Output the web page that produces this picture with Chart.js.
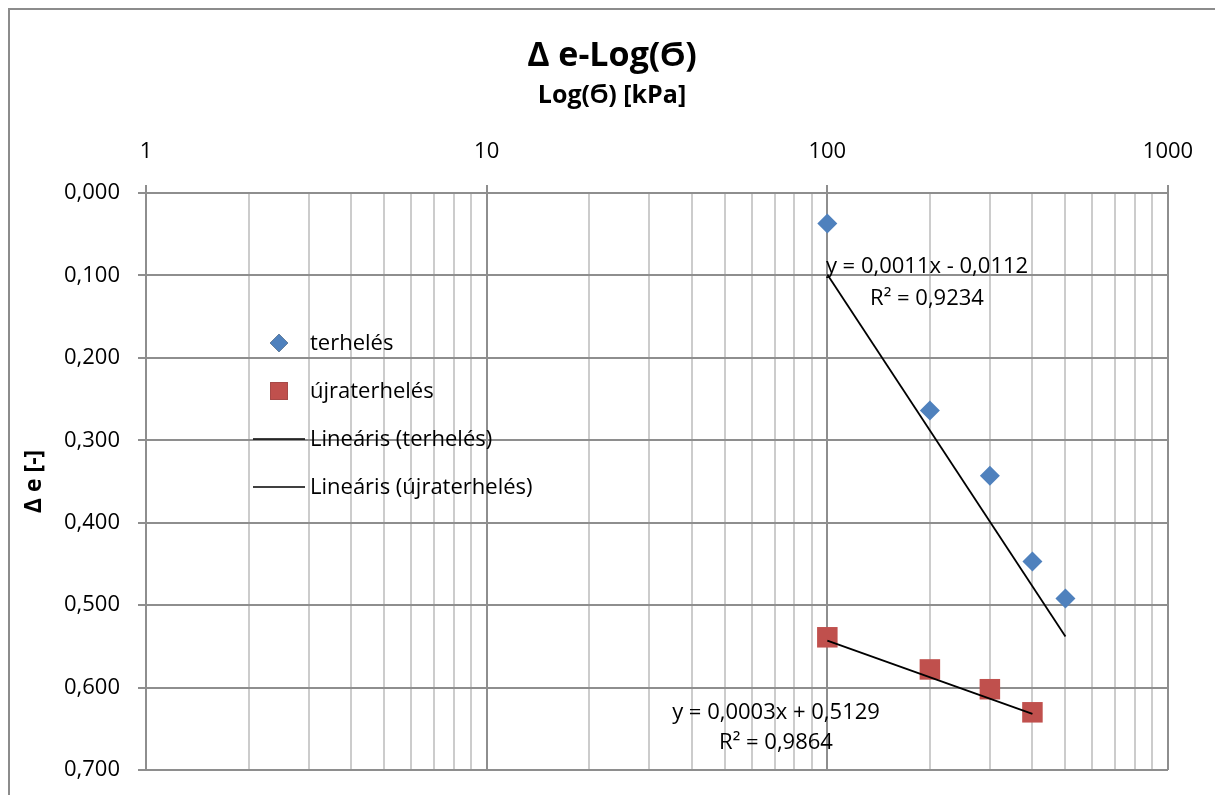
<!DOCTYPE html>
<html>
<head>
<meta charset="utf-8">
<script src="https://cdn.jsdelivr.net/npm/chart.js"></script>
<style>
  html, body { margin: 0; padding: 0; background: #fff; }
  #wrap { width: 1215px; height: 795px; }
</style>
</head>
<body>
<div id="wrap"><canvas id="myChart" width="1215" height="795"></canvas></div>
<script>
// terhelés (loading)
var xTerheles = [100, 200, 300, 400, 500];
var yTerheles = [0.037, 0.264, 0.343, 0.447, 0.492];
// újraterhelés (reloading)
var xUjra = [100, 200, 300, 400];
var yUjra = [0.539, 0.578, 0.602, 0.630];
// trendline ends
var xTrendTerheles = [100, 500];
var yTrendTerheles = [0.099, 0.538];
var xTrendUjra = [100, 400];
var yTrendUjra = [0.543, 0.632];
// equation texts
var eqTerheles = ["y = 0,0011x - 0,0112", "R² = 0,9234"];
var eqUjra = ["y = 0,0003x + 0,5129", "R² = 0,9864"];
var xTicks = [1, 10, 100, 1000];
var chartTitle = "Δ e-Log(Ϭ)";
var xTitle = "Log(Ϭ) [kPa]";
var yTitle = "Δ e [-]";

var FONT = "'Open Sans', sans-serif";
var blue = "#4F81BD";
var red = "#C0504D";

function pts(xs, ys) {
  return xs.map(function (x, i) { return { x: x, y: ys[i] }; });
}
function isMajor(v) {
  return xTicks.indexOf(v) !== -1;
}

// gray chart-area frame like Excel, plus the two top titles
var framePlugin = {
  id: "frame",
  beforeDraw: function (chart) {
    var ctx = chart.ctx;
    ctx.save();
    ctx.strokeStyle = "#8c8c8c";
    ctx.lineWidth = 2;
    ctx.strokeRect(9, 9, 1400, 1000);
    ctx.fillStyle = "#000";
    ctx.textAlign = "center";
    ctx.textBaseline = "alphabetic";
    ctx.font = "bold 34px " + FONT;
    ctx.fillText(chartTitle, 612, 66);
    ctx.font = "bold 25px " + FONT;
    ctx.fillText(xTitle, 612, 103);
    ctx.restore();
  }
};

// legend inside the plot + trendline equations
var labelPlugin = {
  id: "labels",
  afterDraw: function (chart) {
    var ctx = chart.ctx;
    var a = chart.chartArea;
    ctx.save();
    ctx.font = "22px " + FONT;
    ctx.fillStyle = "#000";
    ctx.textBaseline = "middle";
    var lx = a.left + 133, ly = a.top + 150, step = 48;
    chart.data.datasets.forEach(function (ds, i) {
      var y = ly + i * step;
      if (ds.showLine) {
        ctx.strokeStyle = "#000";
        ctx.lineWidth = 1.5;
        ctx.beginPath();
        ctx.moveTo(lx - 26, y);
        ctx.lineTo(lx + 26, y);
        ctx.stroke();
      } else {
        Chart.helpers.drawPoint(ctx, {
          pointStyle: ds.pointStyle,
          radius: ds.pointStyle === "rect" ? 12.5 : 9,
          rotation: 0,
          borderWidth: 0
        }, lx, y);
        ctx.fillStyle = ds.backgroundColor;
        ctx.fill();
      }
      ctx.fillStyle = "#000";
      ctx.textAlign = "left";
      ctx.fillText(ds.label, lx + 31, y + 1);
    });

    ctx.textAlign = "center";
    var cx1 = a.left + 781, cx2 = a.left + 630;
    ctx.fillText(eqTerheles[0], cx1, a.top + 74);
    ctx.fillText(eqTerheles[1], cx1, a.top + 106);
    ctx.fillText(eqUjra[0], cx2, a.top + 520);
    ctx.fillText(eqUjra[1], cx2, a.top + 550);
    ctx.restore();
  }
};

new Chart("myChart", {
  type: "scatter",
  data: {
    datasets: [{
      label: "terhelés",
      data: pts(xTerheles, yTerheles),
      pointStyle: "rectRot",
      pointRadius: 10,
      backgroundColor: blue,
      borderColor: blue,
      borderWidth: 0,
      order: 1
    }, {
      label: "újraterhelés",
      data: pts(xUjra, yUjra),
      pointStyle: "rect",
      pointRadius: 14.5,
      backgroundColor: red,
      borderColor: red,
      borderWidth: 0,
      order: 2
    }, {
      label: "Lineáris (terhelés)",
      data: pts(xTrendTerheles, yTrendTerheles),
      showLine: true,
      pointRadius: 0,
      borderColor: "#000",
      borderWidth: 1.8,
      order: 0
    }, {
      label: "Lineáris (újraterhelés)",
      data: pts(xTrendUjra, yTrendUjra),
      showLine: true,
      pointRadius: 0,
      borderColor: "#000",
      borderWidth: 1.8,
      order: 0
    }]
  },
  options: {
    responsive: false,
    animation: false,
    layout: { padding: { left: 0, right: 47, top: 0, bottom: 25 } },
    plugins: {
      legend: { display: false },
      tooltip: { enabled: false },
      title: { display: false }
    },
    scales: {
      x: {
        type: "logarithmic",
        position: "top",
        min: 1,
        max: 1000,
        afterFit: function (s) {
          s.height = 193;
          s.paddingLeft = 0;
          s.paddingRight = 0;
        },
        afterBuildTicks: function (s) {
          var t = [];
          for (var d = 1; d < 1000; d *= 10) {
            for (var k = 1; k < 10; k++) t.push({ value: d * k });
          }
          t.push({ value: 1000 });
          s.ticks = t;
        },
        ticks: {
          color: "#000",
          font: { family: FONT, size: 22 },
          autoSkip: false,
          maxRotation: 0,
          padding: 20,
          callback: function (v) { return isMajor(v) ? String(v) : ""; }
        },
        grid: {
          color: function (c) { return isMajor(c.tick && c.tick.value) ? "#8e8e8e" : "#cccccc"; },
          tickColor: function (c) { return isMajor(c.tick && c.tick.value) ? "#8e8e8e" : "rgba(0,0,0,0)"; },
          lineWidth: 2,
          tickLength: 8
        },
        border: { color: "#8e8e8e", width: 2 }
      },
      y: {
        reverse: true,
        min: 0,
        max: 0.7,
        afterFit: function (s) {
          s.width = 146;
          s.paddingTop = 0;
          s.paddingBottom = 0;
        },
        ticks: {
          stepSize: 0.1,
          color: "#000",
          font: { family: FONT, size: 22 },
          padding: 18,
          callback: function (v) { return v.toFixed(3).replace(".", ","); }
        },
        title: {
          display: true,
          text: yTitle,
          color: "#000",
          font: { family: FONT, size: 23, weight: "bold" },
          padding: { top: 21, bottom: 0 }
        },
        grid: {
          color: "#8e8e8e",
          lineWidth: 2,
          tickLength: 8
        },
        border: { color: "#8e8e8e", width: 2 }
      }
    }
  },
  plugins: [framePlugin, labelPlugin]
});
</script>
</body>
</html>
